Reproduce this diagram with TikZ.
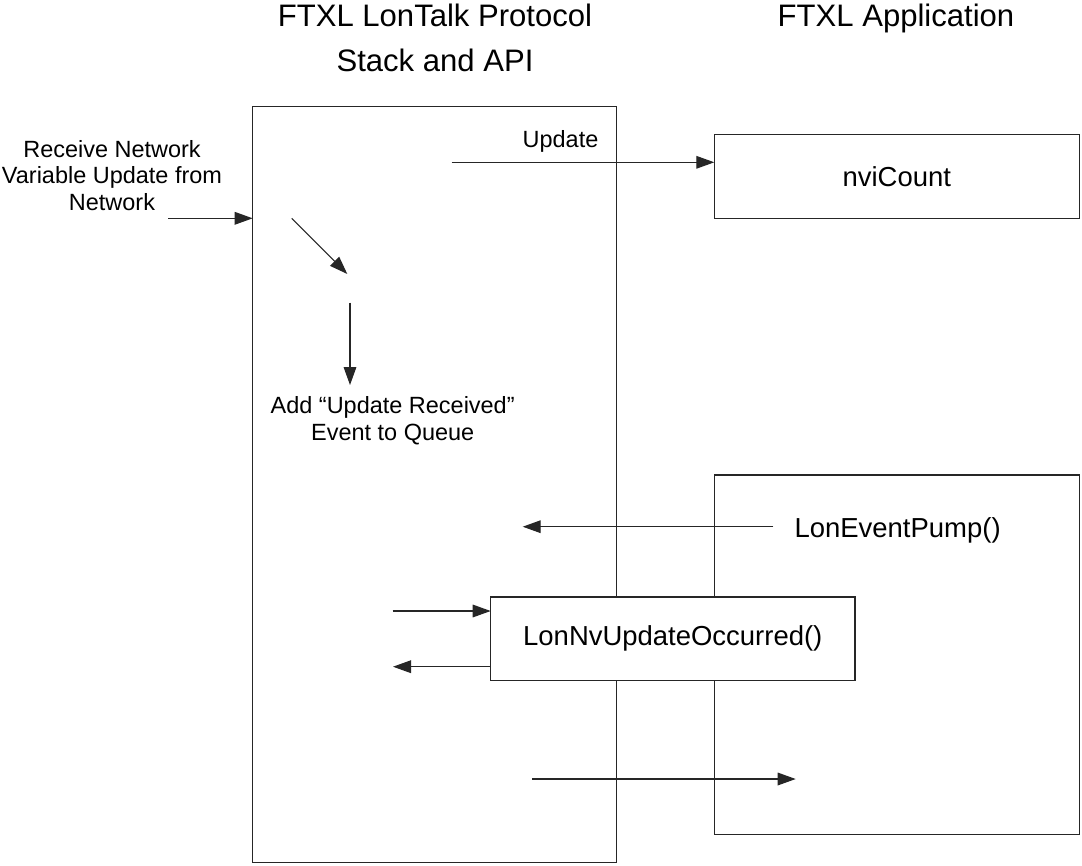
\documentclass[tikz,border=0pt]{standalone}
\usepackage{fontspec}
\setmainfont{Liberation Sans}
\usetikzlibrary{arrows.meta}

\begin{document}
\begin{tikzpicture}[x=0.75pt, y=-0.75pt,
    box/.style={draw=black!85, line width=0.85pt, fill=white, inner sep=0pt, outer sep=0pt},
    lbl/.style={font=\fontsize{17.6}{20}\selectfont, align=center, inner sep=0pt},
    fn/.style={font=\fontsize{20.6}{24}\selectfont, inner sep=0pt},
    ttl/.style={font=\fontsize{23.3}{33.75}\selectfont, align=center, inner sep=0pt},
    arr/.style={-{Triangle[length=13.5pt, width=9.5pt]}, draw=black!85, line width=0.85pt}]
      \useasboundingbox (0,0) rectangle (1082,865);

      % Column titles
      \node[ttl] (stacktitle) at (435,38) {FTXL LonTalk Protocol\\Stack and API};
      \node[ttl, anchor=base] (apptitle) at (896,26.7) {FTXL Application};

      % Stack and application blocks
      \node[box, minimum width=273pt, minimum height=566.7pt] (stack) at (434.7,484.5) {};
      \node[box, fn, minimum width=273.75pt, minimum height=63pt] (nvi) at (896.8,176.3) {nviCount};
      \node[box, minimum width=273.75pt, minimum height=269.5pt] (app) at (896.8,654.65) {};
      \node[box, fn, minimum width=273.2pt, minimum height=62.8pt] (nvupd) at (672.8,638.8) {LonNvUpdateOccurred()};

      % Labels
      \node[lbl] (netlbl) at (112,175.3) {Receive Network\\Variable Update from\\Network};
      \node[lbl, anchor=base] (updlbl) at (560.5,147.3) {Update};
      \node[lbl] (queue) at (392.7,421) {Add “Update Received”\\Event to Queue};
      \node[fn, anchor=base west] (pump) at (794.3,537.3) {LonEventPump()};

      % Free arrow ends
      \coordinate (netin) at (168.3,218.3);
      \coordinate (updfrom) at (451.7,162.3);
      \coordinate (diagfrom) at (291.7,218.3);
      \coordinate (diagto) at (347.3,274);
      \coordinate (downfrom) at (350,302.7);
      \coordinate (downto) at (350,385);
      \coordinate (pumpfrom) at (773.3,526.7);
      \coordinate (pumpto) at (522.7,526.7);
      \coordinate (callin) at (392.7,611);
      \coordinate (callout) at (393,666.7);
      \coordinate (retfrom) at (532,779);
      \coordinate (retto) at (795.7,779);

      % Arrows
      \draw[arr] (netin) -- (netin -| stack.west);
      \draw[arr] (updfrom) -- (updfrom -| nvi.west);
      \draw[arr] (diagfrom) -- (diagto);
      \draw[arr] (downfrom) -- (downto);
      \draw[arr] (pumpfrom) -- (pumpto);
      \draw[arr] (callin) -- (callin -| nvupd.west);
      \draw[arr] (callout -| nvupd.west) -- (callout);
      \draw[arr] (retfrom) -- (retto);

\end{tikzpicture}
\end{document}
